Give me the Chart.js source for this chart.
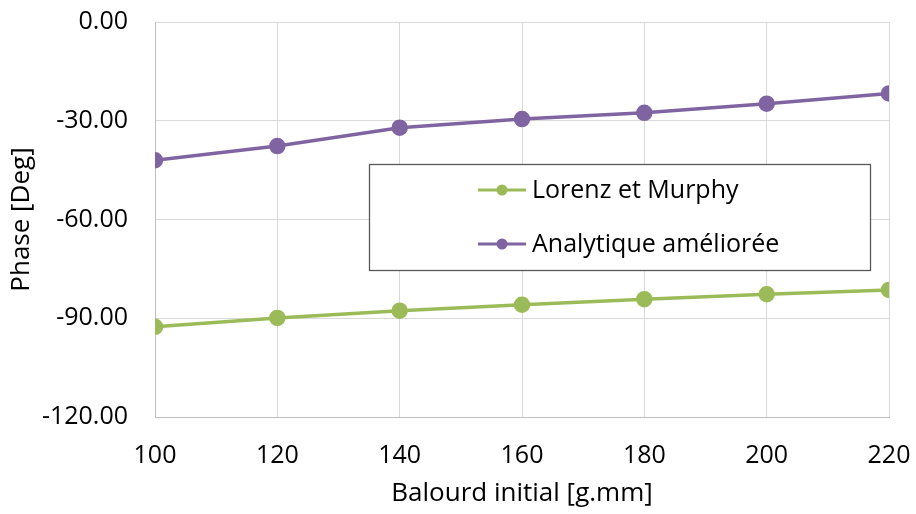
<!DOCTYPE html>
<html lang="fr">
<head>
    <meta charset="UTF-8">
    <title>Phase vs Balourd initial</title>
    <style>
        html, body { margin: 0; padding: 0; background: #fff; }
        #wrap { width: 916px; height: 514px; }
    </style>
    <script src="https://cdn.jsdelivr.net/npm/chart.js"></script>
</head>
<body>
    <div id="wrap"><canvas id="phaseChart" width="916" height="514"></canvas></div>

    <script>
        // data
        const balourd = [100, 120, 140, 160, 180, 200, 220];
        const lorenzMurphy = [-92.6, -89.9, -87.7, -85.9, -84.2, -82.7, -81.4];
        const analytique = [-42.0, -37.7, -32.1, -29.5, -27.6, -24.8, -21.7];
        const seriesNames = ['Lorenz et Murphy', 'Analytique améliorée'];
        const seriesColors = ['#9BBB59', '#8064A2'];

        const font = "'Open Sans', sans-serif";

        function toPoints(ys) {
            return balourd.map((x, i) => ({ x: x, y: ys[i] }));
        }

        // legend drawn as a framed box inside the plot area, like the Excel original
        const boxLegend = {
            id: 'boxLegend',
            afterDatasetsDraw(chart) {
                const ctx = chart.ctx;
                const a = chart.chartArea;
                const left = a.left + 214, top = a.top + 142;
                const w = 501, h = 106;
                ctx.save();
                ctx.fillStyle = '#fff';
                ctx.fillRect(left, top, w, h);
                ctx.strokeStyle = '#595959';
                ctx.lineWidth = 1.3;
                ctx.strokeRect(left + 0.5, top + 0.5, w, h);
                ctx.font = '25px ' + font;
                ctx.textBaseline = 'middle';
                chart.data.datasets.forEach((ds, i) => {
                    const y = top + 26 + i * 54;
                    const x0 = left + 109;
                    ctx.strokeStyle = ds.borderColor;
                    ctx.lineWidth = 3;
                    ctx.beginPath();
                    ctx.moveTo(x0, y);
                    ctx.lineTo(x0 + 48, y);
                    ctx.stroke();
                    ctx.fillStyle = ds.backgroundColor;
                    ctx.beginPath();
                    ctx.arc(x0 + 24, y, 5.5, 0, Math.PI * 2);
                    ctx.fill();
                    ctx.fillStyle = '#000';
                    ctx.fillText(ds.label, x0 + 54, y + 1);
                });
                ctx.restore();
            }
        };

        const ctx = document.getElementById('phaseChart').getContext('2d');
        new Chart(ctx, {
            type: 'line',
            data: {
                datasets: [
                    {
                        label: seriesNames[0],
                        data: toPoints(lorenzMurphy),
                        borderColor: seriesColors[0],
                        backgroundColor: seriesColors[0],
                        borderWidth: 3.5,
                        pointRadius: 6.5,
                        pointHoverRadius: 6.5,
                        tension: 0
                    },
                    {
                        label: seriesNames[1],
                        data: toPoints(analytique),
                        borderColor: seriesColors[1],
                        backgroundColor: seriesColors[1],
                        borderWidth: 3.5,
                        pointRadius: 6.5,
                        pointHoverRadius: 6.5,
                        tension: 0
                    }
                ]
            },
            options: {
                responsive: false,
                animation: false,
                layout: { padding: { top: 22, right: 27, left: 0, bottom: 0 } },
                plugins: {
                    legend: { display: false },
                    tooltip: { enabled: false }
                },
                scales: {
                    x: {
                        type: 'linear',
                        min: 100,
                        max: 220,
                        afterFit(scale) {
                            scale.height = 97;
                            scale.paddingLeft = 0;
                            scale.paddingRight = 0;
                        },
                        ticks: {
                            stepSize: 20,
                            padding: 24,
                            color: '#000',
                            font: { family: font, size: 25 }
                        },
                        grid: { color: '#d9d9d9', lineWidth: 1, drawTicks: false },
                        border: { color: '#bfbfbf', width: 1 },
                        title: {
                            display: true,
                            text: 'Balourd initial [g.mm]',
                            color: '#000',
                            font: { family: font, size: 26 },
                            padding: { top: 0, bottom: 5 }
                        }
                    },
                    y: {
                        min: -120,
                        max: 0,
                        afterFit(scale) {
                            scale.width = 155;
                            scale.paddingTop = 0;
                            scale.paddingBottom = 0;
                        },
                        ticks: {
                            stepSize: 30,
                            padding: 27,
                            color: '#000',
                            font: { family: font, size: 25 },
                            callback: v => v.toFixed(2)
                        },
                        grid: { color: '#d9d9d9', lineWidth: 1, drawTicks: false },
                        border: { color: '#bfbfbf', width: 1 },
                        title: {
                            display: true,
                            text: 'Phase [Deg]',
                            color: '#000',
                            font: { family: font, size: 26 },
                            padding: { top: 6, bottom: 0 }
                        }
                    }
                }
            },
            plugins: [boxLegend]
        });
    </script>
</body>
</html>
